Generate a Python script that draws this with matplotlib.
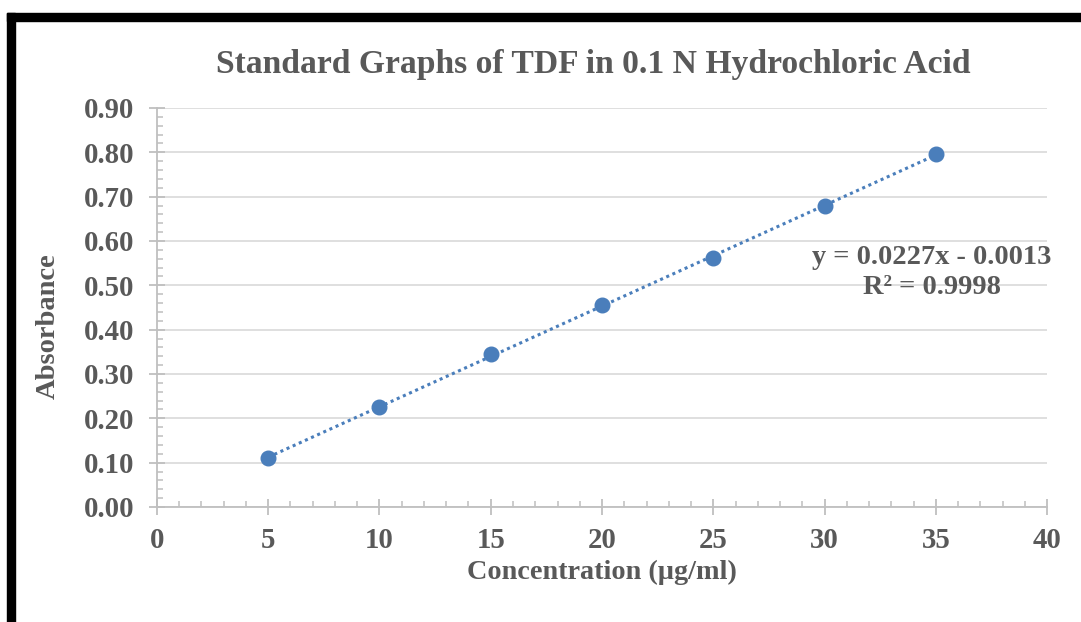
import numpy as np
import matplotlib
matplotlib.use("Agg")
import matplotlib.pyplot as plt
from matplotlib.patches import Rectangle
from matplotlib.ticker import MultipleLocator, FuncFormatter

conc = [5, 10, 15, 20, 25, 30, 35]
absorb = [0.111, 0.225, 0.344, 0.456, 0.561, 0.679, 0.796]
title = "Standard Graphs of TDF in 0.1 N Hydrochloric Acid"
xlabel = "Concentration (µg/ml)"
ylabel = "Absorbance"
equation = "y = 0.0227x - 0.0013\nR² = 0.9998"

plt.rcParams['font.family'] = ['Liberation Serif', 'DejaVu Serif']
txt = '#595959'
fig = plt.figure(figsize=(10.81, 6.22), dpi=100)
ax = fig.add_axes([0.1452, 0.1849, 0.9686 - 0.1452, 0.8264 - 0.1849])

slope, intercept = np.polyfit(conc, absorb, 1)
xs = np.array([min(conc), max(conc)])
ax.plot(xs, slope * xs + intercept, linestyle=(0, (1, 1.2)), color='#4a7ebb', lw=2.2, zorder=3)
ax.plot(conc, absorb, 'o', color='#4a7ebb', ms=10.5, zorder=4)

ax.set_xlim(0, 40)
ax.set_ylim(0, 0.9)
ax.xaxis.set_major_locator(MultipleLocator(5))
ax.xaxis.set_minor_locator(MultipleLocator(1))
ax.yaxis.set_major_locator(MultipleLocator(0.1))
ax.yaxis.set_minor_locator(MultipleLocator(0.02))
ax.yaxis.set_major_formatter(FuncFormatter(lambda v, p: f"{v:.2f}"))

ax.grid(axis='y', which='major', color='#d9d9d9', lw=1.2)
ax.set_axisbelow(True)
for s in ['top', 'right']:
    ax.spines[s].set_visible(False)
for s in ['left', 'bottom']:
    ax.spines[s].set_color('#bfbfbf')
    ax.spines[s].set_linewidth(1.3)
ax.tick_params(which='major', direction='inout', length=11, width=1.3, color='#bfbfbf',
               labelsize=20.7, labelcolor=txt)
ax.tick_params(axis='x', which='major', pad=9)
ax.tick_params(axis='y', which='major', pad=11)
ax.tick_params(which='minor', direction='in', length=4.5, width=1.1, color='#bfbfbf')
for lab in ax.get_xticklabels() + ax.get_yticklabels():
    lab.set_fontweight('bold')

ax.set_xlabel(xlabel, fontsize=20.3, fontweight='bold', color=txt, labelpad=4)
ax.set_ylabel(ylabel, fontsize=20.5, fontweight='bold', color=txt)
ax.yaxis.set_label_coords(-0.108, 0.4536)

fig.text(0.549, 0.897, title, fontsize=24.2, fontweight='bold', color=txt, ha='center', va='center')
fig.text(0.8623, 0.562, equation, fontsize=20.5, fontweight='bold', color=txt,
         ha='center', va='center', linespacing=1.22)

fig.patches.append(Rectangle((7/1081, 0), 8/1081, 1 - 13/622, transform=fig.transFigure,
                             color='black', zorder=10))
fig.patches.append(Rectangle((7/1081, 1 - 21/622), 1, 8/622, transform=fig.transFigure,
                             color='black', zorder=10))

fig.savefig("out.png", dpi=100)
